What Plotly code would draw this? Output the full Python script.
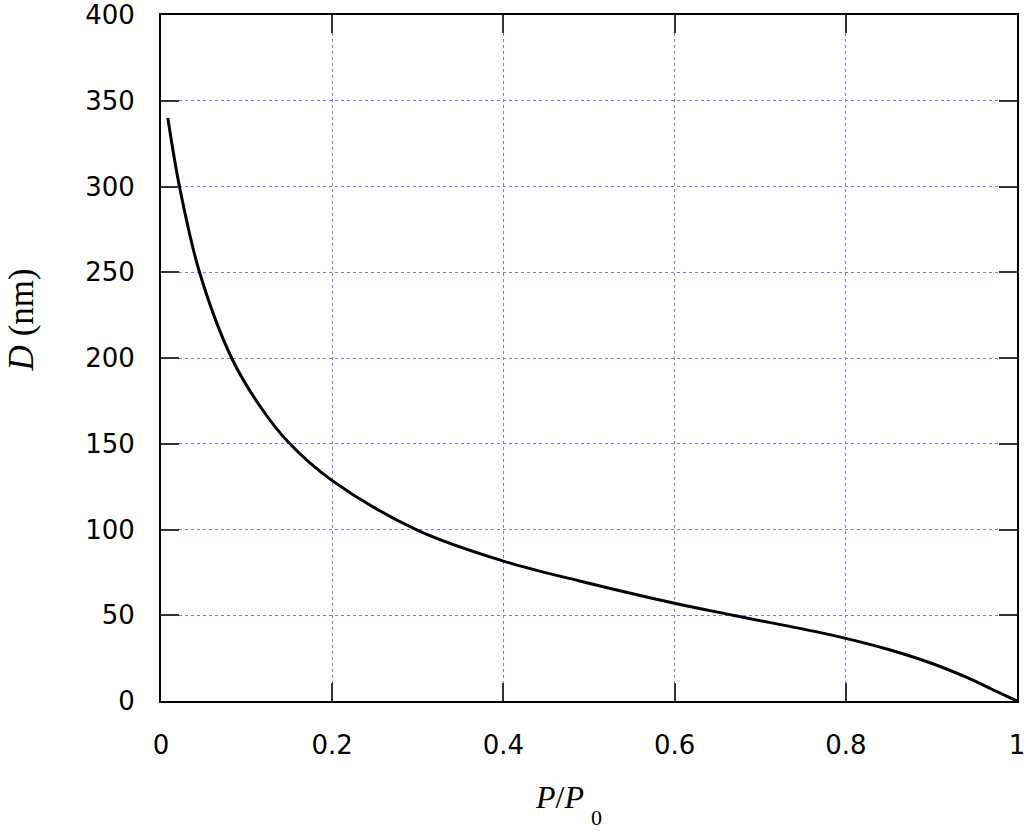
import plotly.graph_objects as go

# Data
p_ratio = [0.008, 0.0216, 0.045, 0.0825, 0.1155, 0.1486, 0.2, 0.3,
           0.4, 0.489, 0.6, 0.668, 0.769, 0.8, 0.85, 0.9,
           0.94, 0.97, 1.0]
diameter = [340, 300, 250, 200, 172, 151, 128.5, 99.5,
            81.6, 70.0, 57.0, 50.0, 40.0, 36.5, 30.0, 22.0,
            14.0, 7.0, 0]

x_ticks = [0, 0.2, 0.4, 0.6, 0.8, 1]
x_tick_labels = ["0", "0.2", "0.4", "0.6", "0.8", "1"]
y_ticks = [0, 50, 100, 150, 200, 250, 300, 350, 400]

x_title = "<i>P</i>/<i>P</i>"
x_title_sub = "0"
y_title = "<i>D</i> (nm)"

fig = go.Figure()
fig.add_trace(go.Scatter(
    x=p_ratio, y=diameter, mode="lines",
    line=dict(color="black", width=3, shape="spline", smoothing=1.0),
    showlegend=False,
))

grid_color = "#7878f0"
tick_font = dict(family="DejaVu Sans", size=26, color="black")
title_font = dict(family="Liberation Serif", size=32, color="black")

fig.update_xaxes(
    range=[0, 1], tickvals=x_ticks, ticktext=x_tick_labels,
    showline=True, linecolor="black", linewidth=2, mirror="allticks",
    ticks="inside", ticklen=18, tickcolor="#333333", tickwidth=2,
    showgrid=True, gridcolor=grid_color, griddash="dot", gridwidth=1.2,
    zeroline=False, tickfont=tick_font, ticklabelstandoff=20,
    ticklabeloverflow="allow",
)
fig.update_yaxes(
    range=[0, 400], tickvals=y_ticks,
    showline=True, linecolor="black", linewidth=2, mirror="allticks",
    ticks="inside", ticklen=18, tickcolor="#333333", tickwidth=2,
    showgrid=True, gridcolor=grid_color, griddash="dot", gridwidth=1.2,
    zeroline=False, tickfont=tick_font, ticklabelstandoff=19,
    ticklabeloverflow="allow",
)

fig.add_annotation(
    text=x_title, xref="paper", yref="paper", x=0.4656, y=-0.140,
    xanchor="center", yanchor="middle", showarrow=False, font=title_font,
)
fig.add_annotation(
    text=x_title_sub, xref="paper", yref="paper", x=0.5088, y=-0.170,
    xanchor="center", yanchor="middle", showarrow=False,
    font=dict(family="Liberation Serif", size=22, color="black"),
)
fig.add_annotation(
    text=y_title, xref="paper", yref="paper", x=-0.1634, y=0.555,
    xanchor="center", yanchor="middle", showarrow=False, textangle=-90,
    font=dict(family="Liberation Serif", size=35, color="black"),
)

fig.update_layout(
    width=1024, height=831,
    margin=dict(l=161, r=7, t=15, b=130, autoexpand=False),
    plot_bgcolor="white", paper_bgcolor="white",
)

fig.write_html(
    "out.html",
    config={"displayModeBar": False},
    post_script="document.body.style.margin='0';document.body.style.overflow='hidden';",
)
